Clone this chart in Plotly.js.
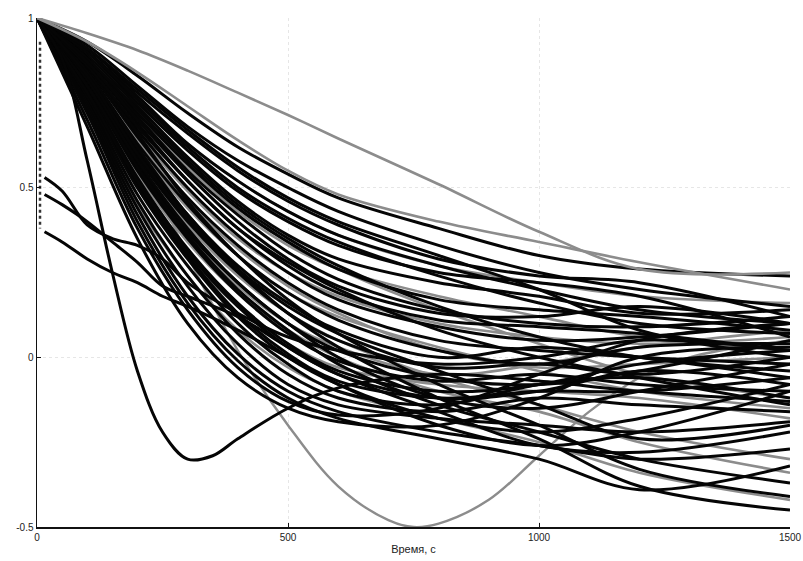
<!DOCTYPE html>
<html><head><meta charset="utf-8">
<script src="https://cdn.plot.ly/plotly-3.0.1.min.js"></script>
<style>html,body{margin:0;padding:0;background:#fff}#chart{width:803px;height:561px}</style>
</head><body><div id="chart"></div>
<script>
// common time grid (s)
const tGrid = [0,100,200,300,400,500,600,800,1000,1200,1500];

const blackCurves = [
  [1,0.93,0.83,0.72,0.62,0.54,0.47,0.38,0.30,0.26,0.24],
  [1,0.92,0.80,0.68,0.58,0.50,0.43,0.33,0.25,0.20,0.15],
  [1,0.91,0.78,0.66,0.55,0.46,0.39,0.29,0.24,0.22,0.12],
  [1,0.90,0.77,0.63,0.52,0.43,0.36,0.27,0.20,0.14,0.10],
  [1,0.90,0.75,0.61,0.49,0.40,0.33,0.25,0.22,0.18,0.06],
  [1,0.89,0.74,0.59,0.46,0.36,0.29,0.22,0.18,0.13,0.14],
  [1,0.88,0.72,0.57,0.44,0.34,0.26,0.17,0.14,0.12,0.08],
  [1,0.88,0.71,0.55,0.42,0.31,0.23,0.14,0.10,0.09,0.12],
  [1,0.87,0.69,0.52,0.38,0.27,0.19,0.11,0.09,0.07,0.02],
  [1,0.86,0.67,0.50,0.36,0.25,0.17,0.09,0.05,0.06,0.10],
  [1,0.85,0.65,0.47,0.33,0.22,0.14,0.05,0.02,0.00,-0.02],
  [1,0.84,0.63,0.45,0.30,0.19,0.11,0.02,-0.02,0.03,0.04],
  [1,0.83,0.61,0.42,0.27,0.16,0.08,0.00,0.03,0.00,-0.06],
  [1,0.82,0.59,0.40,0.25,0.13,0.05,-0.03,-0.02,-0.05,0.00],
  [1,0.81,0.57,0.37,0.22,0.10,0.02,-0.06,-0.08,-0.04,0.05],
  [1,0.80,0.55,0.35,0.19,0.07,-0.01,-0.07,-0.05,-0.08,-0.10],
  [1,0.79,0.53,0.32,0.16,0.04,-0.04,-0.10,-0.08,-0.02,0.02],
  [1,0.78,0.51,0.30,0.13,0.01,-0.07,-0.12,-0.10,-0.10,-0.06],
  [1,0.76,0.48,0.27,0.10,-0.02,-0.10,-0.14,-0.08,-0.06,-0.12],
  [1,0.75,0.46,0.24,0.07,-0.05,-0.12,-0.16,-0.12,-0.14,-0.16],
  [1,0.74,0.44,0.21,0.04,-0.08,-0.14,-0.18,-0.20,-0.22,-0.19],
  [1,0.73,0.42,0.18,0.01,-0.10,-0.16,-0.22,-0.26,-0.30,-0.27],
  [1,0.72,0.40,0.16,-0.01,-0.12,-0.18,-0.24,-0.30,-0.39,-0.32],
  [1,0.86,0.66,0.46,0.30,0.17,0.07,-0.08,-0.20,-0.33,-0.41],
  [1,0.84,0.62,0.42,0.26,0.13,0.03,-0.12,-0.24,-0.38,-0.45],
  [1,0.80,0.56,0.36,0.20,0.08,-0.02,-0.14,-0.22,-0.30,-0.37],
  [1,0.70,0.38,0.14,-0.03,-0.13,-0.17,-0.15,-0.05,0.05,0.10],
  [1,0.68,0.35,0.10,-0.06,-0.15,-0.19,-0.20,-0.12,0.00,0.03],
  [1,0.82,0.58,0.38,0.22,0.10,0.00,-0.12,-0.15,-0.10,-0.02],
  [1,0.77,0.50,0.29,0.12,0.00,-0.08,-0.18,-0.22,-0.18,-0.08],
  [1,0.90,0.76,0.62,0.50,0.41,0.34,0.24,0.16,0.10,0.07],
  [1,0.88,0.73,0.58,0.45,0.35,0.27,0.15,0.06,0.00,-0.04],
  [1,0.86,0.68,0.52,0.38,0.28,0.20,0.08,0.00,-0.06,-0.14],
  [1,0.83,0.60,0.41,0.26,0.15,0.07,-0.04,-0.14,-0.24,-0.20],
  [1,0.78,0.52,0.31,0.15,0.03,-0.05,-0.16,-0.26,-0.28,-0.22],
  [1,0.87,0.70,0.54,0.40,0.29,0.21,0.13,0.12,0.15,0.10],
  [1,0.91,0.79,0.67,0.56,0.47,0.40,0.30,0.20,0.08,0.00]
];

const grayCurves = [
  [1,0.955,0.905,0.845,0.78,0.714,0.645,0.51,0.37,0.26,0.25],
  [1,0.93,0.84,0.74,0.64,0.55,0.48,0.40,0.34,0.28,0.20],
  [1,0.89,0.76,0.63,0.52,0.43,0.36,0.27,0.22,0.18,0.16],
  [1,0.87,0.71,0.56,0.43,0.33,0.26,0.18,0.12,0.06,0.02],
  [1,0.85,0.66,0.49,0.35,0.25,0.18,0.10,0.06,0.04,0.06],
  [1,0.83,0.62,0.44,0.30,0.19,0.12,0.03,-0.04,-0.10,-0.15],
  [1,0.81,0.58,0.39,0.24,0.13,0.05,-0.06,-0.14,-0.22,-0.30],
  [1,0.79,0.54,0.34,0.19,0.08,0.00,-0.10,-0.16,-0.25,-0.34],
  [1,0.77,0.50,0.30,0.15,0.04,-0.03,-0.08,-0.10,-0.12,-0.18],
  [1,0.84,0.64,0.46,0.32,0.21,0.13,0.02,-0.03,-0.02,0.00],
  [1,0.80,0.56,0.36,0.21,0.10,0.03,-0.05,-0.02,0.03,0.08],
  [1,0.74,0.45,0.24,0.08,-0.03,-0.10,-0.18,-0.25,-0.34,-0.42],
  [1,0.88,0.72,0.57,0.44,0.34,0.26,0.14,0.04,-0.05,-0.12]
];

// special curves
const dipBlackT = [0,50,100,150,200,250,300,350,400,500,600,800,1000,1200,1500];
const dipBlackY = [1,0.88,0.58,0.25,-0.04,-0.22,-0.30,-0.29,-0.24,-0.15,-0.09,-0.05,-0.07,-0.10,-0.13];

const dipGrayT = [0,100,200,300,400,500,600,700,750,800,900,1000,1100,1200,1300,1500];
const dipGrayY = [1,0.88,0.62,0.30,0.02,-0.20,-0.38,-0.48,-0.50,-0.49,-0.42,-0.29,-0.16,-0.06,0.00,0.05];

const lowStartT = [15,50,100,150,200,250,300,400,500,600,800,1000,1200,1500];
const lowStart1 = [0.53,0.49,0.39,0.35,0.33,0.29,0.22,0.13,0.06,0.02,-0.02,0.00,0.05,0.02];
const lowStart2 = [0.48,0.45,0.40,0.34,0.28,0.21,0.18,0.12,0.03,-0.05,-0.12,-0.10,-0.04,-0.08];
const lowStart3 = [0.37,0.34,0.29,0.25,0.22,0.18,0.15,0.08,0.00,-0.08,-0.20,-0.26,-0.22,-0.10];

const dotsT = [6,6];
const dotsY = [0.93,0.38];

const xTicks = [0,500,1000,1500];
const yTicks = [-0.5,0,0.5,1];
const yTickText = ['-0.5','0','0.5','1'];

const BLACK = '#050505', GRAY = '#8c8c8c';
const traces = [];
function add(x, y, color, w, dash) {
  traces.push({x: x, y: y, type: 'scatter', mode: 'lines',
    line: {color: color, width: w, shape: 'spline', smoothing: 1, dash: dash || 'solid'},
    hoverinfo: 'skip', showlegend: false});
}
grayCurves.slice(2).forEach(c => add(tGrid, c, GRAY, 2.6));
add(dipGrayT, dipGrayY, GRAY, 2.4);
blackCurves.forEach(c => add(tGrid, c, BLACK, 3));
add(dipBlackT, dipBlackY, BLACK, 3);
add(lowStartT, lowStart1, BLACK, 3);
add(lowStartT, lowStart2, BLACK, 3);
add(lowStartT, lowStart3, BLACK, 3);
add(tGrid, grayCurves[0], GRAY, 2.6);
add(tGrid, grayCurves[1], GRAY, 2.6);
traces.push({x: dotsT, y: dotsY, type: 'scatter', mode: 'lines',
  line: {color: '#333', width: 2.5, dash: 'dot'}, hoverinfo: 'skip', showlegend: false});

const layout = {
  width: 803, height: 561,
  margin: {l: 37, r: 13, t: 18, b: 34},
  paper_bgcolor: '#fff', plot_bgcolor: '#fff',
  font: {family: 'Liberation Sans, Arial, sans-serif', size: 10, color: '#222'},
  xaxis: {range: [0, 1500], tickvals: xTicks, ticktext: xTicks.map(String),
    showline: true, linecolor: '#111', linewidth: 1.5, ticks: 'inside', ticklen: 4, tickcolor: '#111',
    showgrid: true, gridcolor: '#e6e6e6', griddash: 'dot', gridwidth: 1, zeroline: false,
    title: {text: 'Время, с', font: {size: 11, color: '#222'}, standoff: 4}},
  yaxis: {range: [-0.5, 1], tickvals: yTicks, ticktext: yTickText,
    showline: true, linecolor: '#111', linewidth: 1.5, ticks: 'inside', ticklen: 4, tickcolor: '#111',
    showgrid: true, gridcolor: '#e6e6e6', griddash: 'dot', gridwidth: 1, zeroline: false}
};
Plotly.newPlot('chart', traces, layout, {displayModeBar: false, staticPlot: true});
</script></body></html>
